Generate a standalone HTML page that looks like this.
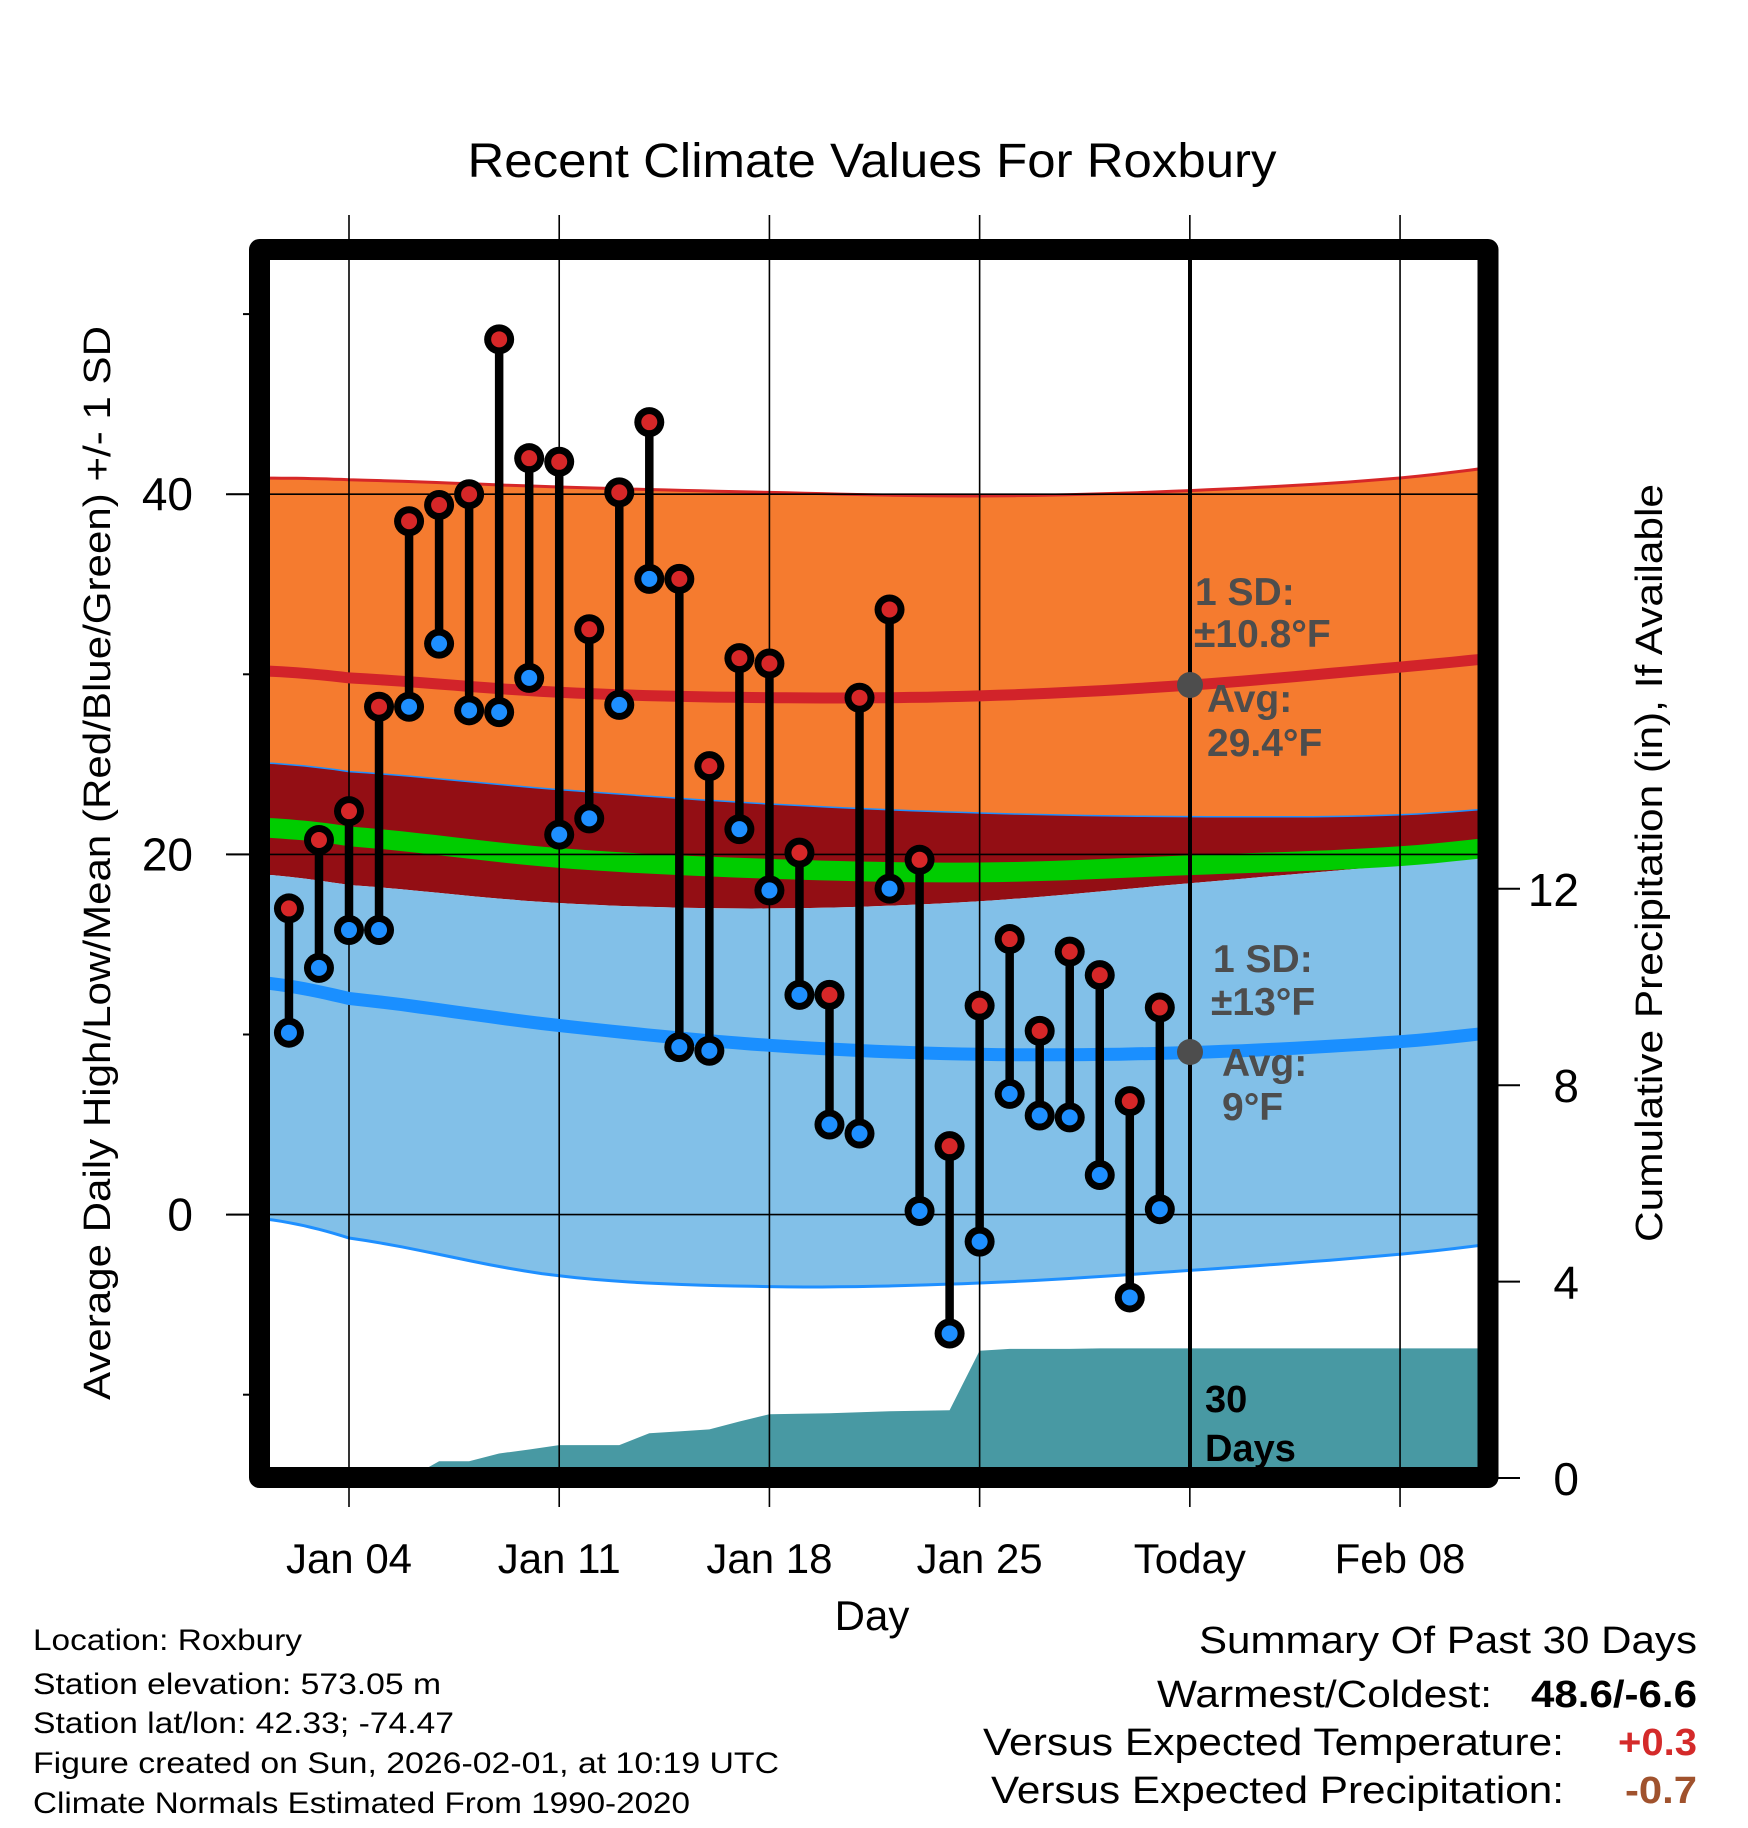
<!DOCTYPE html>
<html><head><meta charset="utf-8"><title>Recent Climate Values For Roxbury</title>
<style>html,body{margin:0;padding:0;background:#fff}svg{display:block}text{font-family:"Liberation Sans",Arial,sans-serif}</style>
</head><body>
<svg id="chart" width="1748" height="1828" viewBox="0 0 1748 1828" xmlns="http://www.w3.org/2000/svg">
<defs><clipPath id="plotclip"><rect x="270" y="260" width="1208" height="1208"/></clipPath></defs>
<text x="872" y="177" font-size="48" text-anchor="middle" textLength="809" lengthAdjust="spacingAndGlyphs">Recent Climate Values For Roxbury</text>
<g id="bands" clip-path="url(#plotclip)"></g>
<g id="precip" clip-path="url(#plotclip)"></g>
<g id="grid"></g>
<g id="lines" clip-path="url(#plotclip)"></g>
<line x1="1190" y1="260" x2="1190" y2="1468" stroke="#000" stroke-width="4"/>
<g id="marks"></g>
<g fill="#4d4d4d" font-weight="bold" font-size="39">
<text x="1195" y="605">1 SD:</text>
<text x="1194" y="647">±10.8°F</text>
<text x="1207" y="712">Avg:</text>
<text x="1207" y="756">29.4°F</text>
<text x="1213" y="972">1 SD:</text>
<text x="1211" y="1015">±13°F</text>
<text x="1222" y="1076">Avg:</text>
<text x="1222" y="1120">9°F</text>
</g>
<circle cx="1190" cy="685" r="13" fill="#4d4d4d"/>
<circle cx="1190" cy="1052" r="13" fill="#4d4d4d"/>
<text x="1205" y="1412" font-size="38" font-weight="bold">30</text>
<text x="1205" y="1461" font-size="38" font-weight="bold">Days</text>
<rect x="259.5" y="249.5" width="1228.5" height="1228" fill="none" stroke="#000" stroke-width="21" stroke-linejoin="round"/>
<g id="axes"></g>
<text x="872" y="1630" font-size="42" text-anchor="middle">Day</text>
<text transform="translate(110,863) rotate(-90)" font-size="38" text-anchor="middle" textLength="1074" lengthAdjust="spacingAndGlyphs">Average Daily High/Low/Mean (Red/Blue/Green) +/- 1 SD</text>
<text transform="translate(1662,863) rotate(-90)" font-size="38" text-anchor="middle" textLength="758" lengthAdjust="spacingAndGlyphs">Cumulative Precipitation (in), If Available</text>
<g font-size="30">
<text x="33" y="1650" textLength="269" lengthAdjust="spacingAndGlyphs">Location: Roxbury</text>
<text x="33" y="1694" textLength="408" lengthAdjust="spacingAndGlyphs">Station elevation: 573.05 m</text>
<text x="33" y="1733" textLength="421" lengthAdjust="spacingAndGlyphs">Station lat/lon: 42.33; -74.47</text>
<text x="33" y="1773" textLength="746" lengthAdjust="spacingAndGlyphs">Figure created on Sun, 2026-02-01, at 10:19 UTC</text>
<text x="33" y="1813" textLength="657" lengthAdjust="spacingAndGlyphs">Climate Normals Estimated From 1990-2020</text>
</g>
<g font-size="38" text-anchor="end">
<text x="1697" y="1653" textLength="498" lengthAdjust="spacingAndGlyphs">Summary Of Past 30 Days</text>
<text x="1492" y="1707" textLength="335" lengthAdjust="spacingAndGlyphs">Warmest/Coldest:</text>
<text x="1697" y="1707" font-weight="bold" textLength="166" lengthAdjust="spacingAndGlyphs">48.6/-6.6</text>
<text x="1564" y="1755" textLength="581" lengthAdjust="spacingAndGlyphs">Versus Expected Temperature:</text>
<text x="1697" y="1755" font-weight="bold" fill="#d42a2a" textLength="79" lengthAdjust="spacingAndGlyphs">+0.3</text>
<text x="1564" y="1803" textLength="573" lengthAdjust="spacingAndGlyphs">Versus Expected Precipitation:</text>
<text x="1697" y="1803" font-weight="bold" fill="#a0522d" textLength="72" lengthAdjust="spacingAndGlyphs">-0.7</text>
</g>
</svg>
<script>
const days = [2,3,4,5,6,7,8,9,10,11,12,13,14,15,16,17,18,19,20,21,22,23,24,25,26,27,28,29,30,31];
const highs = [17.0,20.8,22.4,28.2,38.5,39.4,40.0,48.6,42.0,41.8,32.5,40.1,44.0,35.3,24.9,30.9,30.6,20.1,12.2,28.7,33.6,19.7,3.8,11.6,15.3,10.2,14.6,13.3,6.3,11.5];
const lows = [10.1,13.7,15.8,15.8,28.2,31.7,28.0,27.9,29.8,21.1,22.0,28.3,35.3,9.3,9.1,21.4,18.0,12.2,5.0,4.5,18.1,0.2,-6.6,-1.5,6.7,5.5,5.4,2.2,-4.6,0.3];
const precipDays = [1,2,3,4,5,6,7,8,9,10,11,12,13,14,15,16,17,18,19,20,21,22,23,24,25,26,27,28,29,30,31];
const precipCum = [0,0,0,0,0,0,0.34,0.34,0.50,0.58,0.67,0.67,0.67,0.91,0.95,0.99,1.15,1.30,1.31,1.32,1.34,1.36,1.37,1.38,2.59,2.63,2.63,2.63,2.64,2.64,2.64];
const normDays = [1,4,11,18,25,32,39,46];
const hiPlus = [40.9,40.8,40.4,40.1,39.9,40.2,40.9,42.2];
const hiAvg = [30.2,29.8,29.0,28.7,28.8,29.4,30.4,31.4];
const hiMinus = [25.1,24.6,23.6,22.8,22.3,22.1,22.2,23.0];
const meanT = [21.5,21.0,19.8,19.2,19.0,19.4,19.9,21.0];
const loPlus = [18.9,18.3,17.3,17.0,17.4,18.4,19.4,20.3];
const loAvg = [12.9,12.0,10.5,9.4,8.9,9.0,9.6,10.7];
const loMinus = [-0.2,-1.3,-3.4,-4.0,-3.8,-3.1,-2.2,-1.0];
const xTickDays = [4,11,18,25,32,39];
const xTickLabels = ["Jan 04","Jan 11","Jan 18","Jan 25","Today","Feb 08"];
const yTicks = [40,20,0];
const yMinor = [50,30,10,-10];
const y2Ticks = [0,4,8,12];

const NS = "http://www.w3.org/2000/svg";
const X = d => 349 + (d - 4) * 30.03;
const Y = t => 1214.6 - 18.01 * t;
const Y2 = p => 1478 - 49.1 * p;
function mk(tag, attrs, parent) { const e = document.createElementNS(NS, tag); for (const k in attrs) e.setAttribute(k, attrs[k]); parent.appendChild(e); return e; }
function sample(vals) {
  const pts = [];
  const n = normDays.length;
  for (let i = 0; i < n - 1; i++) {
    const p0 = vals[Math.max(i-1,0)], p1 = vals[i], p2 = vals[i+1], p3 = vals[Math.min(i+2,n-1)];
    const d0 = normDays[i], d1 = normDays[i+1];
    for (let s = 0; s < 12; s++) {
      const u = s / 12;
      const v = 0.5*((2*p1)+(-p0+p2)*u+(2*p0-5*p1+4*p2-p3)*u*u+(-p0+3*p1-3*p2+p3)*u*u*u);
      pts.push([X(d0 + (d1-d0)*u), Y(v)]);
    }
  }
  pts.push([X(normDays[n-1]), Y(vals[n-1])]);
  return pts;
}
const str = pts => pts.map(p => p[0].toFixed(1)+","+p[1].toFixed(1)).join(" ");
function band(top, bot, fill, parent, name) {
  const a = sample(top), b = sample(bot).reverse();
  const el = mk("polygon", {points: str(a.concat(b)), fill: fill}, parent);
  
  
}
function line(vals, color, w, parent, name) {
  const el = mk("polyline", {points: str(sample(vals)), fill: "none", stroke: color, "stroke-width": w}, parent);
  
  
}
const bands = document.getElementById("bands");
band(hiPlus, hiMinus, "#f57b2f", bands, "high-sd-band");
band(hiMinus, loPlus, "#930e14", bands, "mean-band");
band(loPlus, loMinus, "#82c0e8", bands, "low-sd-band");
band(meanT.map(v => v + 0.55), meanT.map(v => v - 0.55), "#00cc00", bands, "mean-line-band");
line(hiPlus, "#d62728", 3, bands, "high-plus-sd-edge");
line(loMinus, "#1e8fff", 3, bands, "low-minus-sd-edge");
line(hiMinus, "#1e8fff", 1.5, bands, "high-minus-sd-edge");

const pr = document.getElementById("precip");
let pp = [[270, Y2(0)]];
precipDays.forEach((d, i) => pp.push([X(d), Y2(precipCum[i])]));
pp.push([1478, Y2(precipCum[precipCum.length-1])]);
pp.push([1478, Y2(0)]);
const pa = mk("polygon", {points: str(pp), fill: "#4899a3"}, pr);



const grid = document.getElementById("grid");
xTickDays.forEach(d => {
  const l = mk("line", {x1: X(d), x2: X(d), y1: 215, y2: 1507, stroke: "#000", "stroke-width": 1.6}, grid);
  
  
});
yTicks.forEach(t => {
  const l = mk("line", {x1: 228, x2: 1478, y1: Y(t), y2: Y(t), stroke: "#000", "stroke-width": 1.6}, grid);
  
  
});

const lines = document.getElementById("lines");
line(hiAvg, "#d2232a", 11, lines, "average-high-line");
line(loAvg, "#1a8fff", 13, lines, "average-low-line");

const marks = document.getElementById("marks");
days.forEach((d, i) => {
  const x = X(d);
  const s = mk("line", {x1: x, x2: x, y1: Y(highs[i]), y2: Y(lows[i]), stroke: "#000", "stroke-width": 8.5}, marks);
  
  
  [[highs[i], "#d62728", "high-marker"], [lows[i], "#1e8fff", "low-marker"]].forEach(m => {
    const o = mk("circle", {cx: x, cy: Y(m[0]), r: 15, fill: "#000"}, marks);
    
    
    const c = mk("circle", {cx: x, cy: Y(m[0]), r: 8, fill: m[1]}, marks);
    
    
  });
});

const axes = document.getElementById("axes");
xTickDays.forEach((d, i) => {
  const t = mk("text", {x: X(d), y: 1573, "font-size": 42, "text-anchor": "middle"}, axes);
  t.textContent = xTickLabels[i];
  
  
});
yTicks.forEach(v => {
  const tk = mk("line", {x1: 226, x2: 250, y1: Y(v), y2: Y(v), stroke: "#000", "stroke-width": 2}, axes);
  
  
  const t = mk("text", {x: 193, y: Y(v) + 16, "font-size": 46, "text-anchor": "end"}, axes);
  t.textContent = v;
  
  
});
yMinor.forEach(v => {
  const tk = mk("line", {x1: 243, x2: 250, y1: Y(v), y2: Y(v), stroke: "#000", "stroke-width": 2}, axes);
  
  
});
y2Ticks.forEach(v => {
  const tk = mk("line", {x1: 1498, x2: 1520, y1: Y2(v), y2: Y2(v), stroke: "#000", "stroke-width": 2}, axes);
  
  
  const t = mk("text", {x: 1579, y: Y2(v) + 17, "font-size": 46, "text-anchor": "end"}, axes);
  t.textContent = v;
  
  
});
</script>
</body></html>
